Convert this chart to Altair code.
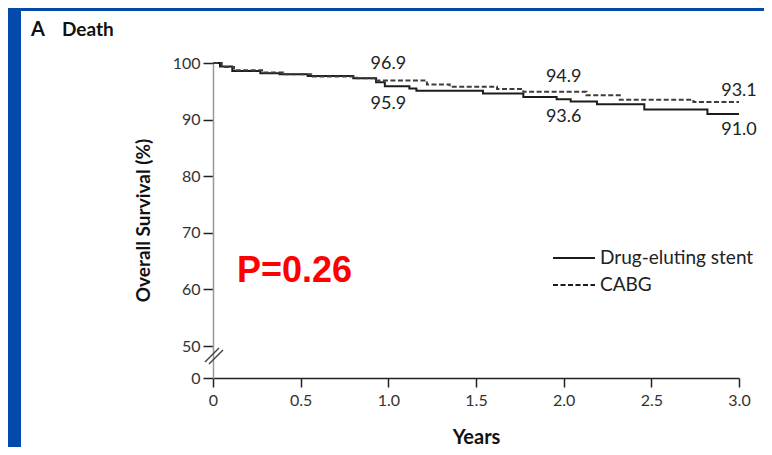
import altair as alt
import pandas as pd

# ---------------- data ----------------
series_names = ["Drug-eluting stent", "CABG"]

des_t = [0, 0.04, 0.11, 0.27, 0.38, 0.54, 0.80, 0.93, 0.98, 1.12, 1.16, 1.54, 1.77, 1.96, 2.04, 2.19, 2.46, 2.82, 3.0]
des_v = [100, 99.4, 98.6, 98.2, 98.0, 97.7, 97.3, 96.6, 95.9, 95.5, 95.1, 94.6, 94.0, 93.6, 93.2, 92.7, 91.8, 91.0, 91.0]

cabg_t = [0, 0.05, 0.12, 0.28, 0.40, 0.56, 0.82, 0.92, 1.22, 1.35, 1.62, 1.77, 2.13, 2.32, 2.74, 3.0]
cabg_v = [100, 99.3, 98.7, 98.3, 98.0, 97.6, 97.3, 96.9, 96.2, 95.8, 95.4, 94.9, 94.3, 93.5, 93.1, 93.1]

ann_t = [1.0, 1.0, 2.0, 2.0, 3.0, 3.0]
ann_v = [96.9, 95.9, 94.9, 93.6, 93.1, 91.0]
ann_labels = ["96.9", "95.9", "94.9", "93.6", "93.1", "91.0"]
ann_dy = [-17, 18, -15, 18, -11, 16]   # label offsets (style)

x_ticks = [0, 0.5, 1.0, 1.5, 2.0, 2.5, 3.0]
y_ticks = [0, 50, 60, 70, 80, 90, 100]

panel_title = ["A", "Death"]
p_text = "P=0.26"

# ---------------- build ----------------
W, H = 526, 315
FONT = "Lato"

df = pd.concat([
    pd.DataFrame({"t": des_t, "v": des_v, "series": series_names[0]}),
    pd.DataFrame({"t": cabg_t, "v": cabg_v, "series": series_names[1]}),
])

xscale = alt.Scale(domain=[0, 3], nice=False)
yscale = alt.Scale(domain=[0, 50, 100], range=[H, H - 32, 0], nice=False, zero=False)

xaxis = alt.Axis(values=x_ticks, labelExpr="datum.value == 0 ? '0' : format(datum.value, '.1f')",
                 title="Years", grid=False, tickSize=9, tickWidth=1.5, tickColor="#222",
                 domainColor="#222", domainWidth=1.5, labelPadding=5, labelFont=FONT,
                 labelFontSize=16, labelColor="#333", titleFont=FONT, titleFontSize=20,
                 titleFontWeight="bold", titleColor="#111", titleX=263, titleY=59,
                 titleBaseline="middle", titleAlign="center", labelFlush=False)
yaxis = alt.Axis(values=y_ticks, title="Overall Survival (%)", grid=False, tickSize=10,
                 tickWidth=1.5, tickColor="#222", domainColor="#999", domainWidth=1.5,
                 labelPadding=3, labelFont=FONT, labelFontSize=16, labelColor="#333",
                 titleFont=FONT, titleFontSize=19, titleFontWeight="bold", titleColor="#111",
                 titleX=-70, titleY=157, titleAngle=-90, titleAlign="center",
                 titleBaseline="middle", labelFlush=False)

curves = alt.Chart(df).mark_line(interpolate="step-after", strokeWidth=2).encode(
    x=alt.X("t:Q", scale=xscale, axis=xaxis),
    y=alt.Y("v:Q", scale=yscale, axis=yaxis),
    color=alt.Color("series:N", scale=alt.Scale(domain=series_names, range=["#1c1c1c", "#3c3c3c"]), legend=None),
    strokeDash=alt.StrokeDash("series:N", scale=alt.Scale(domain=series_names, range=[[1, 0], [5, 2.5]]), legend=None),
)

layers = []

# blue slide edges
layers.append(alt.Chart(pd.DataFrame({"a": [0]})).mark_rect(color="#0449AC").encode(
    x=alt.value(-205), x2=alt.value(-192), y=alt.value(-60), y2=alt.value(420)))
layers.append(alt.Chart(pd.DataFrame({"a": [0]})).mark_rect(color="#0449AC").encode(
    x=alt.value(-205), x2=alt.value(600), y=alt.value(-60), y2=alt.value(-52)))

layers.append(curves)

ann_df = pd.DataFrame({"t": ann_t, "v": ann_v, "lab": ann_labels})
for i in range(len(ann_labels)):
    layers.append(alt.Chart(ann_df.iloc[[i]]).mark_text(
        font=FONT, fontSize=18, color="#222", align="center", baseline="middle", dy=ann_dy[i]
    ).encode(x=alt.X("t:Q", scale=xscale), y=alt.Y("v:Q", scale=yscale), text="lab:N"))

# legend
leg_y = [195, 222]
for i, name in enumerate(series_names):
    layers.append(alt.Chart(pd.DataFrame({"a": [0]})).mark_rule(
        color="#1c1c1c", strokeWidth=2, strokeDash=[1, 0] if i == 0 else [5, 2.5]
    ).encode(x=alt.value(340), x2=alt.value(382), y=alt.value(leg_y[i])))
    layers.append(alt.Chart(pd.DataFrame({"lab": [name]})).mark_text(
        font=FONT, fontSize=19, color="#222", align="left", baseline="middle"
    ).encode(x=alt.value(387), y=alt.value(leg_y[i]), text="lab:N"))

# axis break marks
for off in [0, 4]:
    layers.append(alt.Chart(pd.DataFrame({"a": [0]})).mark_rule(color="#444", strokeWidth=1.5).encode(
        x=alt.value(-8 + off), y=alt.value(299 + off * 0.5), x2=alt.value(6 + off), y2=alt.value(285 + off * 0.5)))

# p value
layers.append(alt.Chart(pd.DataFrame({"lab": [p_text]})).mark_text(
    font="Liberation Sans", fontSize=36, fontWeight="bold", color="#FF0000", align="left", baseline="alphabetic"
).encode(x=alt.value(24), y=alt.value(219), text="lab:N"))

# panel title
layers.append(alt.Chart(pd.DataFrame({"lab": [panel_title[0]]})).mark_text(
    font=FONT, fontSize=20, fontWeight="bold", color="#111", align="left", baseline="alphabetic"
).encode(x=alt.value(-182), y=alt.value(-27), text="lab:N"))
layers.append(alt.Chart(pd.DataFrame({"lab": [panel_title[1]]})).mark_text(
    font=FONT, fontSize=19, fontWeight="bold", color="#111", align="left", baseline="alphabetic"
).encode(x=alt.value(-151), y=alt.value(-27), text="lab:N"))

chart = alt.layer(*layers).properties(
    width=W, height=H,
    autosize=alt.AutoSizeParams(type="none"),
    padding={"left": 205, "top": 55, "right": 25, "bottom": 69},
    background="white",
).configure_view(stroke=None)

chart.save("out.html", embed_options={"renderer": "svg", "actions": False})
